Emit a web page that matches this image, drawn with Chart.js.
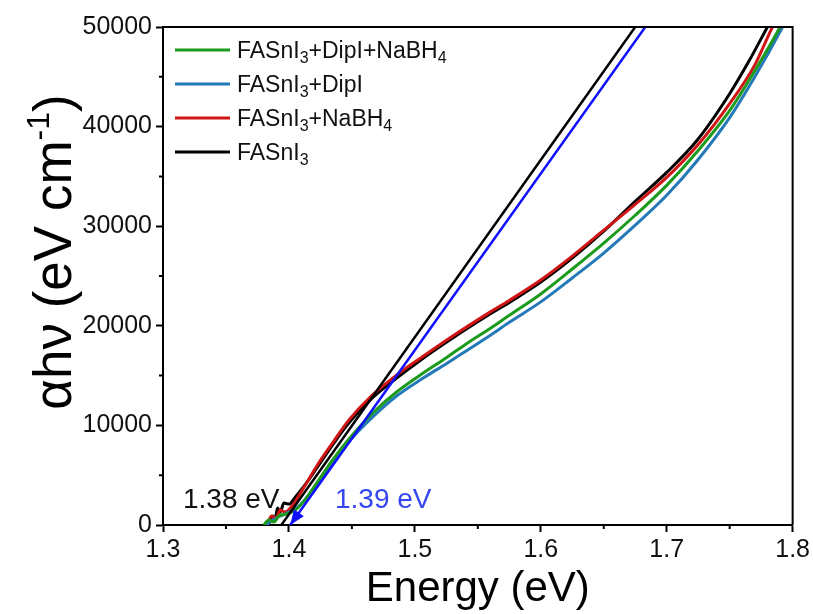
<!DOCTYPE html>
<html>
<head>
<meta charset="utf-8">
<script src="https://cdn.jsdelivr.net/npm/chart.js@4.4.1/dist/chart.umd.min.js"></script>
<style>
  html, body { margin: 0; padding: 0; background: #fff; }
  #wrap { width: 813px; height: 614px; }
</style>
</head>
<body>
<div id="wrap"><canvas id="tauc" width="813" height="614"></canvas></div>
<script>
// energy axis (eV) and alpha*h*nu values
const energyBlack = [1.384, 1.387, 1.389, 1.391, 1.393, 1.396, 1.400, 1.405, 1.412, 1.422, 1.435, 1.448, 1.465, 1.485, 1.505, 1.528, 1.560, 1.575, 1.600, 1.625, 1.650, 1.675, 1.700, 1.724, 1.750, 1.765, 1.780, 1.790];
const valuesBlack = [0, 900, 600, 1700, 1300, 2200, 2100, 2800, 3900, 5700, 8100, 10300, 12600, 14700, 16600, 18600, 21200, 22350, 24400, 26800, 29500, 32500, 35400, 38600, 43300, 46500, 50000, 52300];

const energyRed = [1.383, 1.386, 1.390, 1.393, 1.397, 1.403, 1.412, 1.422, 1.435, 1.448, 1.465, 1.486, 1.505, 1.528, 1.560, 1.575, 1.600, 1.625, 1.650, 1.675, 1.700, 1.725, 1.750, 1.770, 1.784, 1.795];
const valuesRed = [0, 900, 700, 1500, 1300, 2000, 3800, 5900, 8300, 10600, 12900, 15100, 16800, 18800, 21400, 22550, 24600, 27000, 29600, 32200, 34900, 38200, 42300, 46200, 50000, 52500];

const energyGreen = [1.380, 1.384, 1.388, 1.392, 1.398, 1.405, 1.412, 1.422, 1.435, 1.450, 1.467, 1.485, 1.506, 1.525, 1.541, 1.560, 1.575, 1.600, 1.625, 1.650, 1.675, 1.700, 1.725, 1.750, 1.770, 1.790, 1.800];
const valuesGreen = [0, 500, 300, 900, 1100, 1500, 2400, 4200, 6600, 9000, 11300, 13300, 15200, 16800, 18200, 19750, 21050, 23200, 25700, 28300, 31100, 34100, 37600, 41600, 45600, 50000, 52500];

const energyBlue = [1.382, 1.386, 1.390, 1.395, 1.400, 1.406, 1.413, 1.422, 1.435, 1.450, 1.467, 1.485, 1.506, 1.525, 1.541, 1.560, 1.575, 1.600, 1.625, 1.650, 1.675, 1.700, 1.725, 1.750, 1.770, 1.792, 1.800];
const valuesBlue = [0, 400, 700, 1000, 1300, 1700, 2600, 4100, 6300, 8700, 10900, 12900, 14700, 16200, 17500, 19050, 20350, 22400, 24800, 27300, 30100, 33100, 36700, 40900, 45000, 50000, 52000];

// linear fits (tangents) to the absorption edge
const fitBlackEnergy = [1.394, 1.675];
const fitBlackValue = [0, 50000];
const fitBlueEnergy = [1.401, 1.683];
const fitBlueValue = [0, 50000];

const xTicks = [1.3, 1.4, 1.5, 1.6, 1.7, 1.8];
const yTicks = [0, 10000, 20000, 30000, 40000, 50000];

const FONT = "'Liberation Sans', Arial, sans-serif";

function toPoints(xs, ys) {
    return xs.map((x, i) => ({ x: x, y: ys[i] }));
}

function isMajor(list, v) {
    return list.some(t => Math.abs(t - v) < 1e-6);
}

// legend entries: text pieces, subscript pieces flagged
const legendItems = [
    { color: '#1b9a1b', parts: [['FASnI', 0], ['3', 1], ['+DipI+NaBH', 0], ['4', 1]] },
    { color: '#2479b8', parts: [['FASnI', 0], ['3', 1], ['+DipI', 0]] },
    { color: '#d01515', parts: [['FASnI', 0], ['3', 1], ['+NaBH', 0], ['4', 1]] },
    { color: '#000000', parts: [['FASnI', 0], ['3', 1]] }
];

const decorPlugin = {
    id: 'decor',
    afterDraw(chart) {
        const { ctx, chartArea: a, scales: { x, y } } = chart;
        ctx.save();

        // top and right frame
        ctx.strokeStyle = '#000';
        ctx.lineWidth = 2;
        ctx.beginPath();
        ctx.moveTo(a.left, a.top);
        ctx.lineTo(a.right, a.top);
        ctx.lineTo(a.right, a.bottom);
        ctx.stroke();

        // minor ticks
        ctx.lineWidth = 2;
        ctx.beginPath();
        x.ticks.forEach(t => {
            if (isMajor(xTicks, t.value)) return;
            const px = x.getPixelForValue(t.value);
            ctx.moveTo(px, a.bottom);
            ctx.lineTo(px, a.bottom + 4);
        });
        y.ticks.forEach(t => {
            if (isMajor(yTicks, t.value)) return;
            const py = y.getPixelForValue(t.value);
            ctx.moveTo(a.left, py);
            ctx.lineTo(a.left - 4, py);
        });
        ctx.stroke();

        // arrow head at the lower end of the blue fit
        const x0 = x.getPixelForValue(fitBlueEnergy[0]);
        const y0 = y.getPixelForValue(fitBlueValue[0]);
        const x1 = x.getPixelForValue(fitBlueEnergy[1]);
        const y1 = y.getPixelForValue(fitBlueValue[1]);
        const ang = Math.atan2(y0 - y1, x0 - x1);
        const len = 15, half = 6;
        ctx.fillStyle = '#1010ff';
        ctx.beginPath();
        ctx.moveTo(x0, y0);
        ctx.lineTo(x0 - len * Math.cos(ang) + half * Math.sin(ang), y0 - len * Math.sin(ang) - half * Math.cos(ang));
        ctx.lineTo(x0 - len * Math.cos(ang) - half * Math.sin(ang), y0 - len * Math.sin(ang) + half * Math.cos(ang));
        ctx.closePath();
        ctx.fill();

        // band gap labels
        ctx.font = '28px ' + FONT;
        ctx.textBaseline = 'alphabetic';
        ctx.textAlign = 'left';
        ctx.fillStyle = '#111';
        ctx.fillText('1.38 eV', 183, 508);
        ctx.fillStyle = '#3346f2';
        ctx.fillText('1.39 eV', 335, 508);

        // legend
        legendItems.forEach((item, i) => {
            const cy = 50 + i * 34;
            ctx.strokeStyle = item.color;
            ctx.lineWidth = 3;
            ctx.beginPath();
            ctx.moveTo(175, cy);
            ctx.lineTo(230, cy);
            ctx.stroke();
            let tx = 237;
            ctx.fillStyle = '#111';
            item.parts.forEach(([txt, sub]) => {
                ctx.font = (sub ? '16px ' : '23px ') + FONT;
                ctx.fillText(txt, tx, cy + (sub ? 13 : 8));
                tx += ctx.measureText(txt).width;
            });
        });

        // x title
        ctx.fillStyle = '#000';
        ctx.font = '42px ' + FONT;
        ctx.textAlign = 'center';
        ctx.fillText('Energy (eV)', (a.left + a.right) / 2, 601);

        // y title with superscript
        ctx.translate(71, 252);
        ctx.rotate(-Math.PI / 2);
        const big = '53px ' + FONT, small = '32px ' + FONT;
        const pieces = [['\u03b1h\u03bd (eV cm', big, 0], ['-1', small, -22], [')', big, 0]];
        let total = 0;
        pieces.forEach(p => { ctx.font = p[1]; total += ctx.measureText(p[0]).width; });
        let tx = -total / 2;
        ctx.textAlign = 'left';
        pieces.forEach(p => {
            ctx.font = p[1];
            ctx.fillText(p[0], tx, p[2]);
            tx += ctx.measureText(p[0]).width;
        });
        ctx.restore();
    }
};

const ctx = document.getElementById('tauc').getContext('2d');

new Chart(ctx, {
    type: 'scatter',
    data: {
        datasets: [
            { label: 'fit blue', data: toPoints(fitBlueEnergy, fitBlueValue), borderColor: '#1010ff', borderWidth: 2.5, tension: 0 },
            { label: 'fit black', data: toPoints(fitBlackEnergy, fitBlackValue), borderColor: '#000000', borderWidth: 2.5, tension: 0 },
            { label: 'FASnI3+DipI+NaBH4', data: toPoints(energyGreen, valuesGreen), borderColor: '#1b9a1b', borderWidth: 3, cubicInterpolationMode: 'monotone' },
            { label: 'FASnI3+DipI', data: toPoints(energyBlue, valuesBlue), borderColor: '#2479b8', borderWidth: 3, cubicInterpolationMode: 'monotone' },
            { label: 'FASnI3+NaBH4', data: toPoints(energyRed, valuesRed), borderColor: '#d01515', borderWidth: 3, cubicInterpolationMode: 'monotone' },
            { label: 'FASnI3', data: toPoints(energyBlack, valuesBlack), borderColor: '#000000', borderWidth: 3, cubicInterpolationMode: 'monotone' }
        ]
    },
    options: {
        responsive: false,
        animation: false,
        showLine: true,
        pointRadius: 0,
        pointHoverRadius: 0,
        layout: { padding: { top: 27, right: 20, left: 0, bottom: 0 } },
        scales: {
            x: {
                type: 'linear',
                min: 1.3,
                max: 1.8,
                afterFit: (s) => { s.height = 89; },
                border: { display: true, color: '#000', width: 2 },
                grid: {
                    drawOnChartArea: false,
                    drawTicks: true,
                    tickLength: 7,
                    tickWidth: 2,
                    tickColor: (c) => isMajor(xTicks, c.tick.value) ? '#000' : 'rgba(0,0,0,0)'
                },
                ticks: {
                    stepSize: 0.05,
                    padding: 3,
                    color: '#111',
                    maxRotation: 0,
                    autoSkip: false,
                    font: { family: FONT, size: 25 },
                    callback: (v) => isMajor(xTicks, v) ? v.toFixed(1) : ''
                }
            },
            y: {
                type: 'linear',
                min: 0,
                max: 50000,
                afterFit: (s) => { s.width = 163; },
                border: { display: true, color: '#000', width: 2 },
                grid: {
                    drawOnChartArea: false,
                    drawTicks: true,
                    tickLength: 7,
                    tickWidth: 2,
                    tickColor: (c) => isMajor(yTicks, c.tick.value) ? '#000' : 'rgba(0,0,0,0)'
                },
                ticks: {
                    stepSize: 5000,
                    padding: 4,
                    color: '#111',
                    autoSkip: false,
                    font: { family: FONT, size: 25 },
                    callback: (v) => isMajor(yTicks, v) ? String(v) : ''
                }
            }
        },
        plugins: {
            legend: { display: false },
            tooltip: { enabled: false },
            title: { display: false }
        }
    },
    plugins: [decorPlugin]
});
</script>
</body>
</html>
